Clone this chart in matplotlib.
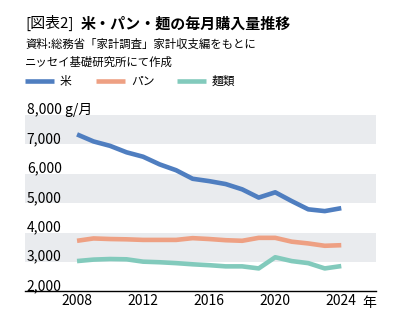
import matplotlib
matplotlib.use("Agg")
import matplotlib.pyplot as plt
import matplotlib.transforms as mtransforms

plt.rcParams['font.family'] = ['Noto Sans CJK JP', 'DejaVu Sans']

# === Data (g per month) ===
years = list(range(2008, 2025))
rice = [7340, 7100, 6950, 6730, 6580, 6320, 6120, 5830, 5750, 5650,
        5470, 5190, 5370, 5070, 4790, 4730, 4830]
bread = [3720, 3800, 3780, 3770, 3750, 3750, 3750, 3810, 3780, 3740,
         3720, 3820, 3820, 3690, 3630, 3550, 3570]
noodles = [3030, 3080, 3100, 3090, 3010, 2990, 2960, 2920, 2890, 2850,
           2850, 2780, 3160, 3030, 2960, 2780, 2860]

series_names = ['米', 'パン', '麺類']
series_colors = ['#4f7ec0', '#eea083', '#82cabc']
y_ticks = [2000, 3000, 4000, 5000, 6000, 7000, 8000]
x_ticks = [2008, 2012, 2016, 2020, 2024]

fig = plt.figure(figsize=(3.97, 3.23), dpi=100)
ax = fig.add_axes([0.063, 0.098, 0.884, 0.546])

# shaded bands between alternate gridlines
for lo in (3000, 5000, 7000):
    ax.axhspan(lo, lo + 1000, color='#e9ebee', lw=0, zorder=0)

for vals, col in zip([rice, bread, noodles], series_colors):
    ax.plot(years, vals, color=col, lw=3.3, solid_capstyle='butt',
            solid_joinstyle='round', zorder=3)

ax.set_xlim(2004.85, 2026.1)
ax.set_ylim(2000, 8000)
ax.set_yticks([])
ax.set_xticks(x_ticks)
ax.set_xticklabels([str(x) for x in x_ticks], fontsize=10)
ax.tick_params(axis='x', length=0, pad=2)
for s in ('top', 'right', 'left'):
    ax.spines[s].set_visible(False)
ax.spines['bottom'].set_color('black')
ax.spines['bottom'].set_linewidth(1.0)

# y labels sit on their level
trans = mtransforms.blended_transform_factory(ax.transAxes, ax.transData)
for v in y_ticks:
    label = f'{v:,}'
    if v == 8000:
        label += ' g/月'
    ax.text(0.005, v + 40, label, transform=trans, fontsize=10,
            ha='left', va='baseline')
ax.text(1.0, -0.025, '年', transform=ax.transAxes, fontsize=10,
        ha='right', va='top')

# title and source
fig.text(0.063, 0.928, '[図表2]', fontsize=10.8, va='center', ha='left')
fig.text(0.203, 0.928, '米・パン・麺の毎月購入量推移', fontsize=10.8,
         fontweight='bold', va='center', ha='left')
fig.text(0.063, 0.864, '資料:総務省「家計調査」家計収支編をもとに',
         fontsize=8.2, va='center', ha='left')
fig.text(0.063, 0.808, 'ニッセイ基礎研究所にて作成',
         fontsize=8.2, va='center', ha='left')

# legend
leg_x = [0.063, 0.242, 0.446]
for x0, name, col in zip(leg_x, series_names, series_colors):
    fig.add_artist(plt.Line2D([x0, x0 + 0.073], [0.749, 0.749],
                              color=col, lw=3.3, solid_capstyle='butt',
                              transform=fig.transFigure))
    fig.text(x0 + 0.088, 0.749, name, fontsize=8.5, va='center', ha='left')

fig.savefig('out.png', dpi=100, facecolor='white')
